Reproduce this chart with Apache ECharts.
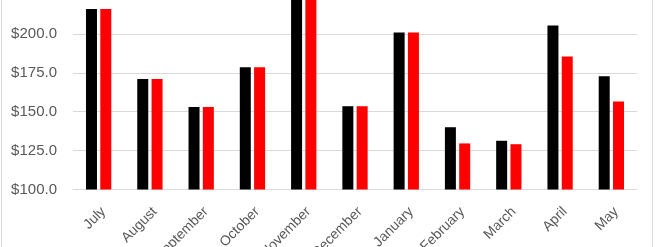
<!DOCTYPE html>
<html>
<head>
<meta charset="utf-8">
<script src="https://cdn.jsdelivr.net/npm/echarts@6/dist/echarts.min.js"></script>
<style>
  html, body { margin: 0; padding: 0; background: #fff; overflow: hidden; }
  #wrap { position: relative; width: 657px; height: 247px; overflow: hidden; }
  /* chart is taller than the window and shifted up so the top is cut off like the reference */
  #chart { position: absolute; left: 0; top: -54px; width: 657px; height: 301px; }
</style>
</head>
<body>
<div id="wrap"><div id="chart"></div></div>
<script>
var months = ['July', 'August', 'September', 'October', 'November', 'December',
  'January', 'February', 'March', 'April', 'May'];
var seriesA = [216, 171, 153, 178.5, 228, 153.5, 200.8, 140, 131.3, 205.4, 172.8];
var seriesB = [216, 171, 153, 178.5, 228, 153.5, 200.8, 129.6, 129.1, 185.5, 156.6];

var chart = echarts.init(document.getElementById('chart'), null, { renderer: 'canvas' });

var option = {
  backgroundColor: '#ffffff',
  animation: false,
  grid: { left: 73, right: 20, top: 10, bottom: 57.5, outerBoundsMode: 'none', containLabel: false },
  xAxis: {
    type: 'category',
    data: months,
    axisLine: { lineStyle: { color: '#d9d9d9' } },
    axisTick: { show: false },
    axisLabel: {
      interval: 0,
      rotate: 45,
      margin: 15,
      verticalAlign: 'top',
      color: '#595959',
      fontSize: 14,
      fontFamily: 'Liberation Sans'
    }
  },
  yAxis: {
    type: 'value',
    min: 100,
    max: 250,
    interval: 25,
    axisLine: { show: false },
    axisTick: { show: false },
    splitLine: { lineStyle: { color: '#d9d9d9' } },
    axisLabel: {
      margin: 16,
      color: '#595959',
      fontSize: 15,
      fontFamily: 'Liberation Sans',
      formatter: function (v) { return '$' + v.toFixed(1); }
    }
  },
  series: [
    {
      name: 'Series 1',
      type: 'bar',
      data: seriesA,
      barWidth: 11,
      barGap: '30%',
      itemStyle: { color: '#000000' }
    },
    {
      name: 'Series 2',
      type: 'bar',
      data: seriesB,
      barWidth: 11,
      itemStyle: { color: '#ff0000' }
    }
  ],
  graphic: [
    { type: 'line', shape: { x1: 1.5, y1: 0, x2: 1.5, y2: 301 }, style: { stroke: '#d9d9d9', lineWidth: 1 } },
    { type: 'line', shape: { x1: 652.5, y1: 0, x2: 652.5, y2: 301 }, style: { stroke: '#d9d9d9', lineWidth: 1 } }
  ]
};

chart.setOption(option);
</script>
</body>
</html>
